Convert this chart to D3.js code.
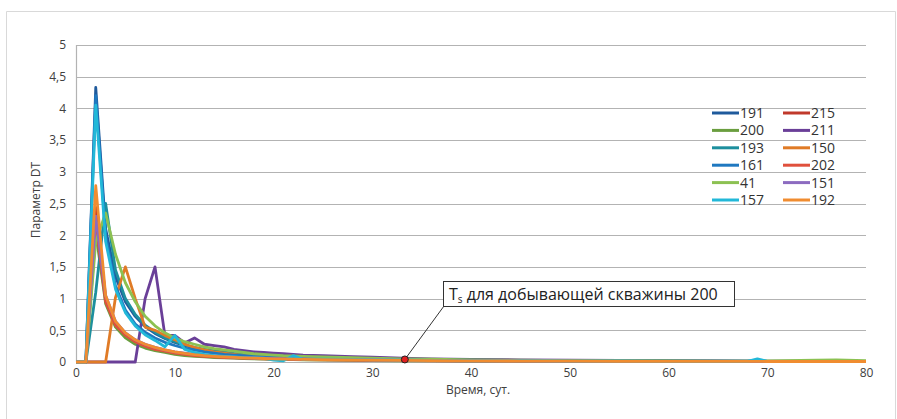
<!DOCTYPE html>
<html>
<head>
<meta charset="utf-8">
<script src="https://cdn.jsdelivr.net/npm/d3@7"></script>
<style>
  html, body { margin: 0; padding: 0; background: #fff; }
  svg { display: block; }
</style>
</head>
<body>
<svg id="chart" width="897" height="419"></svg>
<script>
// Days of observation (x positions of every point)
const days = [0,1,2,3,4,5,6,7,8,9,10,11,12,13,14,15,16,17,18,19,20,
              21,22,23,25,28,30,33,36,40,45,50,55,60,65,68,69,70,75,77,80];

// DT parameter per well
const w191 = [0,0,4.33,2.1,1.35,0.95,0.72,0.56,0.45,0.37,0.31,0.26,0.22,0.19,0.17,0.15,0.13,0.12,0.11,0.1,0.09,
              0.085,0.08,0.075,0.065,0.055,0.05,0.04,0.035,0.03,0.025,0.02,0.017,0.015,0.013,0.012,0.012,0.011,0.01,0.01,0.01];
const w215 = [0,0,2.44,1.0,0.62,0.44,0.34,0.27,0.22,0.18,0.15,0.13,0.11,0.1,0.09,0.08,0.07,0.065,0.06,0.055,0.05,
              0.047,0.045,0.042,0.038,0.033,0.03,0.026,0.022,0.019,0.016,0.014,0.012,0.011,0.01,0.009,0.009,0.009,0.008,0.008,0.008];
const w200 = [0,0,2.05,0.92,0.55,0.38,0.28,0.22,0.18,0.15,0.12,0.1,0.09,0.08,0.07,0.065,0.06,0.055,0.05,0.045,0.04,
              0.038,0.036,0.034,0.03,0.026,0.024,0.02,0.018,0.015,0.013,0.011,0.01,0.009,0.008,0.008,0.008,0.007,0.007,0.007,0.007];
const w211 = [0,0,0,0,0,0,0,1.0,1.5,0.42,0.42,0.3,0.38,0.28,0.26,0.24,0.2,0.18,0.16,0.15,0.14,
              0.13,0.12,0.11,0.1,0.085,0.075,0.06,0.05,0.042,0.035,0.03,0.025,0.02,0.017,0.015,0.015,0.014,0.012,0.012,0.01];
const w193 = [0,0,1.1,2.5,1.45,1.0,0.75,0.58,0.47,0.38,0.32,0.27,0.23,0.2,0.17,0.15,0.13,0.12,0.11,0.1,0.09,
              0.085,0.08,0.075,0.065,0.055,0.05,0.042,0.036,0.03,0.025,0.021,0.018,0.015,0.013,0.012,0.012,0.011,0.01,0.01,0.01];
const w150 = [0,0,0,0,1.02,1.5,1.0,0.55,0.5,0.42,0.35,0.28,0.23,0.19,0.16,0.14,0.12,0.1,0.09,0.08,0.07,
              0.065,0.06,0.055,0.048,0.04,0.035,0.03,0.025,0.02,0.017,0.014,0.012,0.011,0.01,0.01,0.01,0.01,0.01,0.01,0.01];
const w161 = [0,0,4.2,2.0,1.2,0.82,0.6,0.47,0.38,0.31,0.26,0.22,0.19,0.16,0.14,0.12,0.11,0.1,0.09,0.08,0.075,
              0.07,0.065,0.06,0.055,0.048,0.043,0.036,0.03,0.025,0.02,0.017,0.015,0.013,0.011,0.01,0.01,0.01,0.009,0.009,0.009];
const w202 = [0,0,2.2,0.95,0.58,0.42,0.32,0.25,0.2,0.17,0.14,0.12,0.1,0.09,0.08,0.07,0.065,0.06,0.055,0.05,0.045,
              0.042,0.04,0.038,0.034,0.03,0.027,0.023,0.02,0.017,0.014,0.012,0.011,0.01,0.009,0.009,0.009,0.008,0.008,0.008,0.008];
const w41  = [0,0,1.9,2.35,1.7,1.25,0.95,0.72,0.57,0.46,0.38,0.32,0.28,0.24,0.21,0.19,0.17,0.15,0.13,0.12,0.11,
              0.1,0.095,0.09,0.08,0.068,0.06,0.05,0.043,0.035,0.028,0.023,0.02,0.017,0.015,0.015,0.015,0.016,0.03,0.035,0.02];
const w151 = [0,0,2.3,1.05,0.64,0.46,0.35,0.28,0.23,0.19,0.16,0.14,0.12,0.105,0.095,0.085,0.078,0.07,0.065,0.06,0.055,
              0.052,0.05,0.047,0.042,0.037,0.033,0.028,0.024,0.02,0.017,0.015,0.013,0.011,0.01,0.01,0.01,0.01,0.009,0.009,0.009];
const w157 = [0,0,4.05,1.9,1.15,0.78,0.57,0.43,0.34,0.24,0.42,0.2,0.15,0.12,0.1,0.09,0.08,0.07,0.065,0.06,0.03,
              0.02,0.1,0.04,0.045,0.04,0.035,0.03,0.025,0.02,0.017,0.015,0.013,0.011,0.01,0.01,0.05,0.01,0.01,0.01,0.01];
const w192 = [0,0,2.78,1.05,0.64,0.46,0.35,0.28,0.23,0.19,0.16,0.135,0.115,0.1,0.09,0.08,0.072,0.065,0.06,0.055,0.05,
              0.047,0.045,0.042,0.038,0.033,0.03,0.025,0.021,0.018,0.015,0.013,0.011,0.01,0.009,0.009,0.009,0.008,0.008,0.008,0.008];

// Wells in drawing / legend order (legend fills row by row, two columns)
const wellNames  = ["191","215","200","211","193","150","161","202","41","151","157","192"];
const wellValues = [w191, w215, w200, w211, w193, w150, w161, w202, w41, w151, w157, w192];
const wellColors = ["#1f5a9c","#c0392b","#6a9e3f","#6a3f98","#1d8f9e","#e07b26",
                    "#1f78c0","#e0503c","#8cc152","#8c6bc0","#22b8d8","#f08c30"];

const yTicks = [0,0.5,1,1.5,2,2.5,3,3.5,4,4.5,5];
const xTicks = [0,10,20,30,40,50,60,70,80];

// Marked moment for well 200
const tsDay = 33.3;
const tsValue = 0.04;
const tsLabel = "для добывающей скважины 200";

const svg = d3.select("#chart");
const W = 897, H = 419;
const plot = { left: 76, right: 866, top: 45, bottom: 362 };

// outer frame
svg.append("path")
  .attr("d", `M6.5,${H} V11.5 H895.5 V${H}`)
  .attr("fill", "none").attr("stroke", "#d9d9d9").attr("stroke-width", 1);

const x = d3.scaleLinear().domain([0, 80]).range([plot.left, plot.right]);
const y = d3.scaleLinear().domain([0, 5]).range([plot.bottom, plot.top]);

// horizontal grid
svg.append("g").selectAll("line").data(yTicks).join("line")
  .attr("x1", plot.left).attr("x2", plot.right)
  .attr("y1", d => Math.round(y(d)) + 0.5).attr("y2", d => Math.round(y(d)) + 0.5)
  .attr("stroke", "#b3b3b3").attr("stroke-width", 1.2);

// left axis line
svg.append("line")
  .attr("x1", plot.left + 0.5).attr("x2", plot.left + 0.5)
  .attr("y1", plot.top).attr("y2", plot.bottom)
  .attr("stroke", "#b3b3b3").attr("stroke-width", 1.2);

const fmt = d => String(d).replace(".", ",");
const tickFont = "'Open Sans', 'Noto Sans', sans-serif";

// y axis labels
const yAxis = d3.axisLeft(y).tickValues(yTicks).tickFormat(fmt).tickSize(0).tickPadding(10);
svg.append("g").attr("transform", `translate(${plot.left},0)`).call(yAxis)
  .call(g => g.select(".domain").remove())
  .call(g => g.selectAll("text").attr("font-family", tickFont).attr("font-size", 12).attr("fill", "#404040"));

// x axis labels
const xAxis = d3.axisBottom(x).tickValues(xTicks).tickFormat(fmt).tickSize(0).tickPadding(6);
svg.append("g").attr("transform", `translate(0,${plot.bottom})`).call(xAxis)
  .call(g => g.select(".domain").remove())
  .call(g => g.selectAll("text").attr("font-family", tickFont).attr("font-size", 12).attr("fill", "#404040"));

// axis titles
svg.append("text").attr("x", 478).attr("y", 394).attr("text-anchor", "middle")
  .attr("font-family", tickFont).attr("font-size", 12).attr("fill", "#404040").text("Время, сут.");
svg.append("text").attr("transform", "translate(40,200) rotate(-90)").attr("text-anchor", "middle")
  .attr("font-family", tickFont).attr("font-size", 12).attr("fill", "#404040").text("Параметр DT");

// series lines
const line = d3.line().x((d, i) => x(days[i])).y(d => y(d));
svg.append("g").selectAll("path").data(wellValues).join("path")
  .attr("d", d => line(d))
  .attr("fill", "none")
  .attr("stroke", (d, i) => wellColors[i])
  .attr("stroke-width", 2.8)
  .attr("stroke-linejoin", "round");

// legend
const legendFont = "'Liberation Sans Narrow', 'Open Sans', sans-serif";
const leg = svg.append("g");
wellNames.forEach((name, i) => {
  const col = i % 2, row = Math.floor(i / 2);
  const lx = col === 0 ? 712 : 783;
  const ly = 113 + row * 17.4;
  leg.append("line").attr("x1", lx).attr("x2", lx + 27).attr("y1", ly).attr("y2", ly)
    .attr("stroke", wellColors[i]).attr("stroke-width", 3);
  leg.append("text").attr("x", lx + 28).attr("y", ly + 5)
    .attr("font-family", legendFont).attr("font-size", 14).attr("fill", "#333").text(name);
});

// annotation: marker, leader and callout box
const mx = x(tsDay), my = y(tsValue);
const box = { x: 443, y: 281, w: 291, h: 25 };
svg.append("line").attr("x1", mx).attr("y1", my).attr("x2", box.x + 1).attr("y2", box.y + box.h)
  .attr("stroke", "#333").attr("stroke-width", 1);
svg.append("rect").attr("x", box.x + 0.5).attr("y", box.y + 0.5).attr("width", box.w).attr("height", box.h)
  .attr("fill", "#fff").attr("stroke", "#333").attr("stroke-width", 1);
const t = svg.append("text").attr("x", box.x + 6).attr("y", box.y + 19)
  .attr("font-family", tickFont).attr("font-size", 16).attr("fill", "#222");
t.append("tspan").text("T");
t.append("tspan").attr("font-size", 10).attr("dy", 3).text("s");
t.append("tspan").attr("dy", -3).text(" " + tsLabel);
svg.append("circle").attr("cx", mx).attr("cy", my).attr("r", 3.5)
  .attr("fill", "#e02020").attr("stroke", "#222").attr("stroke-width", 1);
</script>
</body>
</html>
